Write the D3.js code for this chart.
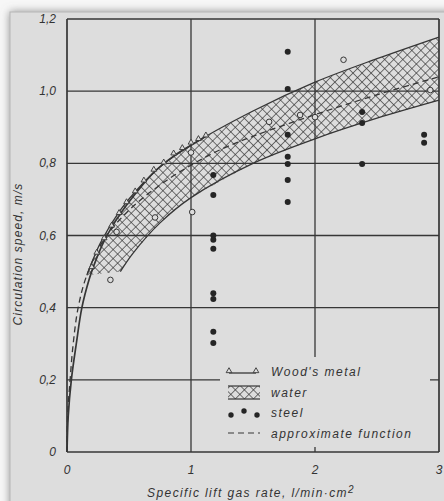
<!DOCTYPE html>
<html>
<head>
<meta charset="utf-8">
<script src="https://cdn.jsdelivr.net/npm/d3@7"></script>
<style>
  html, body { margin: 0; padding: 0; background: #f7f7f7; }
  svg text { font-family: "Liberation Sans", Arial, sans-serif; font-style: italic; fill: #333; }
</style>
</head>
<body>
<svg id="chart" width="444" height="501"></svg>
<script>
// tick values / labels
var xTicks = [0, 1, 2, 3];
var xTickLabels = ['0', '1', '2', '3'];
var yTicks = [0, 0.2, 0.4, 0.6, 0.8, 1.0, 1.2];
var yTickLabels = ['0', '0,2', '0,4', '0,6', '0,8', '1,0', '1,2'];

// water band (hatched) edges
var bandUpper = [[0.16, 0.49], [0.2, 0.525], [0.27, 0.58], [0.43, 0.67], [0.6, 0.74], [0.75, 0.79], [1.0, 0.85], [1.5, 0.945], [2.0, 1.025], [2.5, 1.09], [3.0, 1.15]];
var bandLower = [[0.43, 0.50], [0.53, 0.55], [0.75, 0.635], [1.0, 0.705], [1.5, 0.80], [2.0, 0.868], [2.5, 0.925], [3.0, 0.975]];

// Wood's metal curve and points
var woodsLine = [[0, 0], [0.01, 0.1], [0.035, 0.2], [0.075, 0.3], [0.12, 0.4], [0.18, 0.48], [0.22, 0.52], [0.3, 0.585], [0.42, 0.655], [0.55, 0.715], [0.7, 0.775], [0.86, 0.82], [1.0, 0.85], [1.12, 0.875]];
var woodsPoints = [[0.2, 0.51], [0.24, 0.55], [0.3, 0.59], [0.36, 0.625], [0.42, 0.66], [0.48, 0.69], [0.55, 0.72], [0.62, 0.75], [0.7, 0.78], [0.78, 0.80], [0.86, 0.825], [0.93, 0.84], [1.0, 0.855], [1.06, 0.865], [1.12, 0.875]];

// water measurements (open circles)
var waterPoints = [[0.35, 0.477], [0.40, 0.61], [0.71, 0.65], [1.01, 0.665], [1.0, 0.83], [1.63, 0.915], [1.88, 0.934], [2.0, 0.928], [2.23, 1.087], [2.93, 1.003]];

// steel measurements (filled dots)
var steelX = [1.18, 1.18, 1.18, 1.18, 1.18, 1.18, 1.18, 1.18, 1.18, 1.78, 1.78, 1.78, 1.78, 1.78, 1.78, 1.78, 2.38, 2.38, 2.38, 2.88, 2.88];
var steelY = [0.768, 0.712, 0.60, 0.588, 0.563, 0.44, 0.424, 0.333, 0.302, 1.109, 1.006, 0.879, 0.818, 0.798, 0.754, 0.693, 0.942, 0.912, 0.798, 0.879, 0.857];

// approximate function (dashed)
var approxLine = [[0, 0], [0.005, 0.1], [0.025, 0.2], [0.05, 0.3], [0.09, 0.4], [0.16, 0.49], [0.3, 0.59], [0.5, 0.67], [0.75, 0.74], [1.0, 0.795], [1.25, 0.84], [1.5, 0.875], [2.0, 0.935], [2.5, 0.99], [3.0, 1.04]];

var svg = d3.select('#chart');
var ink = '#363636';
var paper = '#dddddd';

var defs = svg.append('defs');
var shadow = defs.append('filter').attr('id', 'shadow').attr('x', '-10%').attr('y', '-10%').attr('width', '120%').attr('height', '120%');
shadow.append('feDropShadow').attr('dx', 0).attr('dy', 0).attr('stdDeviation', 4).attr('flood-color', '#777').attr('flood-opacity', 0.8);

var hatch = defs.append('pattern').attr('id', 'hatch').attr('patternUnits', 'userSpaceOnUse')
	.attr('width', 6.4).attr('height', 6.4).attr('patternTransform', 'rotate(45)');
hatch.append('line').attr('x1', 0).attr('y1', 0).attr('x2', 0).attr('y2', 6.4).style('stroke', '#333').style('stroke-width', 1.3);
hatch.append('line').attr('x1', 0).attr('y1', 0).attr('x2', 6.4).attr('y2', 0).style('stroke', '#333').style('stroke-width', 1.3);

// paper
svg.append('rect').attr('x', 10).attr('y', 12).attr('width', 460).attr('height', 520)
	.style('fill', paper).style('stroke', '#b5b5b5').style('stroke-width', 1).attr('filter', 'url(#shadow)');

var x = d3.scaleLinear().domain([0, 3]).range([67, 439]);
var y = d3.scaleLinear().domain([0, 1.2]).range([452, 19]);

// grid
var grid = svg.append('g').attr('class', 'grid');
grid.selectAll('line.h').data(yTicks).enter().append('line').attr('class', 'h')
	.attr('x1', x(0)).attr('x2', x(3))
	.attr('y1', function (d) { return y(d); }).attr('y2', function (d) { return y(d); })
	.style('stroke', ink).style('stroke-width', function (d, i) { return (i === 0 || i === yTicks.length - 1) ? 1.7 : 1.3; });
grid.selectAll('line.v').data(xTicks).enter().append('line').attr('class', 'v')
	.attr('y1', y(0)).attr('y2', y(1.2))
	.attr('x1', function (d) { return x(d); }).attr('x2', function (d) { return x(d); })
	.style('stroke', ink).style('stroke-width', function (d, i) { return (i === 0 || i === xTicks.length - 1) ? 1.7 : 1.3; });

// tick labels
svg.append('g').selectAll('text').data(yTicks).enter().append('text')
	.attr('x', 56).attr('y', function (d) { return y(d) + 4; })
	.attr('text-anchor', 'end').style('font-size', '12px')
	.text(function (d, i) { return yTickLabels[i]; });
svg.append('g').selectAll('text').data(xTicks).enter().append('text')
	.attr('x', function (d) { return x(d); }).attr('y', 474)
	.attr('text-anchor', 'middle').style('font-size', '12px')
	.text(function (d, i) { return xTickLabels[i]; });

// axis titles
svg.append('text').attr('x', 251).attr('y', 497).attr('text-anchor', 'middle')
	.style('font-size', '12px').style('letter-spacing', '1.4px')
	.html('Specific lift gas rate, l/min\u00b7cm<tspan dy="-4" style="font-size:10px">2</tspan>');
svg.append('text').attr('transform', 'translate(22,254) rotate(-90)').attr('text-anchor', 'middle')
	.style('font-size', '12px').style('letter-spacing', '1.1px')
	.text('Circulation speed, m/s');

var curve = d3.line().x(function (d) { return x(d[0]); }).y(function (d) { return y(d[1]); }).curve(d3.curveCatmullRom);

// water band
var bandPoly = bandUpper.concat(bandLower.slice().reverse());
svg.append('path').datum(bandPoly)
	.attr('d', function (d) { return 'M' + d.map(function (p) { return x(p[0]) + ',' + y(p[1]); }).join('L') + 'Z'; })
	.style('fill', 'url(#hatch)').style('stroke', 'none');
svg.append('path').datum(bandUpper).attr('d', curve)
	.style('fill', 'none').style('stroke', ink).style('stroke-width', 1.3);
svg.append('path').datum(bandLower).attr('d', curve)
	.style('fill', 'none').style('stroke', ink).style('stroke-width', 1.3);

// approximate function
svg.append('path').datum(approxLine).attr('d', curve)
	.style('fill', 'none').style('stroke', ink).style('stroke-width', 1.3).style('stroke-dasharray', '6,4');

// Wood's metal
svg.append('path').datum(woodsLine).attr('d', curve)
	.style('fill', 'none').style('stroke', ink).style('stroke-width', 1.7);
var tri = d3.symbol().type(d3.symbolTriangle).size(14);
svg.append('g').selectAll('path').data(woodsPoints).enter().append('path')
	.attr('d', tri)
	.attr('transform', function (d) { return 'translate(' + x(d[0]) + ',' + (y(d[1]) - 1) + ')'; })
	.style('fill', paper).style('stroke', ink).style('stroke-width', 0.9);

// water points
svg.append('g').selectAll('circle').data(waterPoints).enter().append('circle')
	.attr('cx', function (d) { return x(d[0]); }).attr('cy', function (d) { return y(d[1]); })
	.attr('r', 2.8).style('fill', paper).style('stroke', ink).style('stroke-width', 1);

// steel points
svg.append('g').selectAll('circle').data(steelX).enter().append('circle')
	.attr('cx', function (d) { return x(d); }).attr('cy', function (d, i) { return y(steelY[i]); })
	.attr('r', 3).style('fill', '#252525');

// legend
var lg = svg.append('g');
lg.append('rect').attr('x', 220).attr('y', 357).attr('width', 210).attr('height', 90).style('fill', paper);
var items = ["Wood's metal", 'water', 'steel', 'approximate function'];
lg.selectAll('text').data(items).enter().append('text')
	.attr('x', 271).attr('y', function (d, i) { return 376 + i * 20.5; })
	.style('font-size', '12px').style('letter-spacing', '1.5px')
	.text(function (d) { return d; });
lg.append('line').attr('x1', 229).attr('x2', 256).attr('y1', 373).attr('y2', 373).style('stroke', ink).style('stroke-width', 1.3);
lg.selectAll('path.lt').data([229, 256]).enter().append('path').attr('class', 'lt')
	.attr('d', tri).attr('transform', function (d) { return 'translate(' + d + ',371)'; })
	.style('fill', paper).style('stroke', ink).style('stroke-width', 0.9);
lg.append('rect').attr('x', 228).attr('y', 386).attr('width', 32).attr('height', 13)
	.style('fill', 'url(#hatch)').style('stroke', 'none');
lg.selectAll('line.wb').data([386, 399]).enter().append('line').attr('class', 'wb')
	.attr('x1', 228).attr('x2', 260).attr('y1', function (d) { return d; }).attr('y2', function (d) { return d; })
	.style('stroke', ink).style('stroke-width', 1.2);
lg.selectAll('circle').data([[231, 415], [244, 411], [257, 415]]).enter().append('circle')
	.attr('cx', function (d) { return d[0]; }).attr('cy', function (d) { return d[1]; })
	.attr('r', 2.7).style('fill', '#252525');
lg.append('line').attr('x1', 228).attr('x2', 260).attr('y1', 433).attr('y2', 433)
	.style('stroke', ink).style('stroke-width', 1.2).style('stroke-dasharray', '6,4');
</script>
</body>
</html>
